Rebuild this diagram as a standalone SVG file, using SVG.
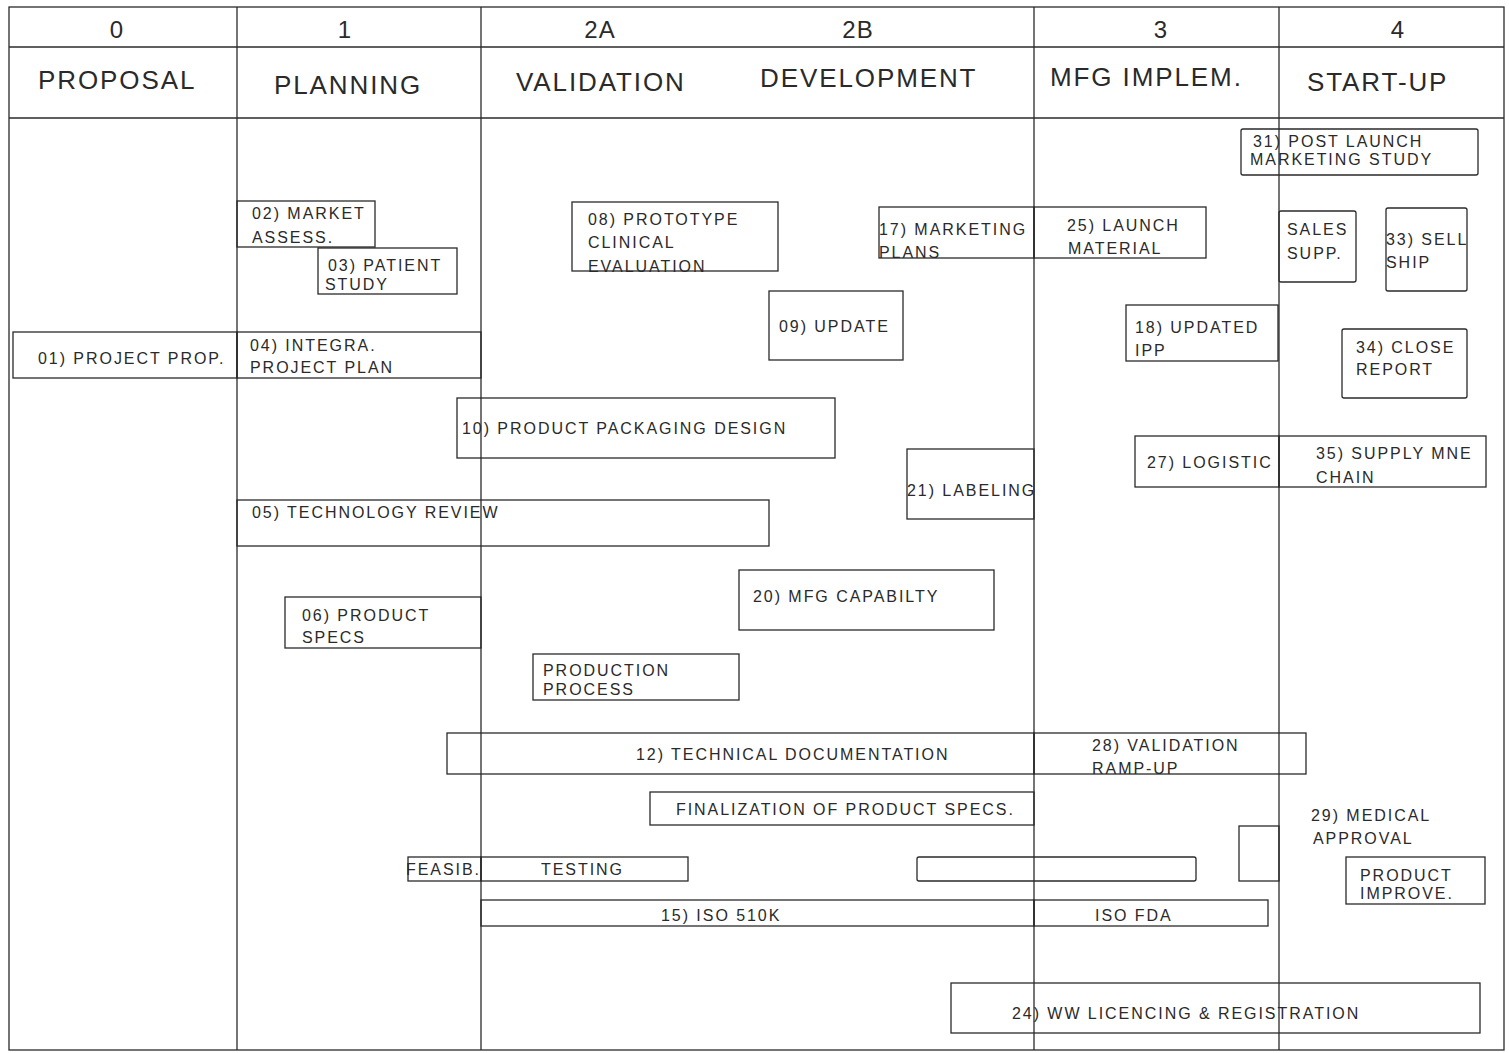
<svg xmlns="http://www.w3.org/2000/svg" width="1509" height="1053" viewBox="0 0 1509 1053">
<style>
.bx{fill:none;stroke:#2a2a2a;stroke-width:1.3}
.ln{stroke:#2a2a2a;stroke-width:1.3;fill:none}
.t{font-family:"Liberation Sans",Arial,sans-serif;font-size:16px;letter-spacing:1.95px;fill:#2a2a2a}
.h{font-family:"Liberation Sans",Arial,sans-serif;font-size:26px;letter-spacing:1.9px;fill:#2a2a2a}
.n{font-family:"Liberation Sans",Arial,sans-serif;font-size:24px;letter-spacing:1px;fill:#2a2a2a;text-anchor:middle}
</style>
<rect width="1509" height="1053" fill="#fff"/>
<g id="grid">
<rect class="bx" x="9" y="7" width="1495" height="1043"/>
<line class="ln" x1="9" y1="47" x2="1504" y2="47"/>
<line class="ln" x1="9" y1="118" x2="1504" y2="118"/>
<line class="ln" x1="237" y1="7" x2="237" y2="1050"/>
<line class="ln" x1="481" y1="7" x2="481" y2="1050"/>
<line class="ln" x1="1034" y1="7" x2="1034" y2="1050"/>
<line class="ln" x1="1279" y1="7" x2="1279" y2="1050"/>
</g>
<g id="headers">
<text class="n" x="117" y="38">0</text>
<text class="n" x="345" y="38">1</text>
<text class="n" x="600" y="38">2A</text>
<text class="n" x="858" y="38">2B</text>
<text class="n" x="1161" y="38">3</text>
<text class="n" x="1398" y="38">4</text>
<text class="h" x="38" y="89">PROPOSAL</text>
<text class="h" x="274" y="94">PLANNING</text>
<text class="h" x="516" y="91">VALIDATION</text>
<text class="h" x="760" y="87">DEVELOPMENT</text>
<text class="h" x="1050" y="86">MFG IMPLEM.</text>
<text class="h" x="1307" y="91">START-UP</text>
</g>
<g id="n01"><rect class="bx" x="13" y="332" width="224" height="46"/><text class="t" x="38" y="364">01) PROJECT PROP.</text></g>
<g id="n02"><rect class="bx" x="237" y="201" width="138" height="46"/><text class="t" x="252" y="219">02) MARKET</text><text class="t" x="252" y="243">ASSESS.</text></g>
<g id="n03"><rect class="bx" x="318" y="248" width="139" height="46"/><text class="t" x="328" y="271">03) PATIENT</text><text class="t" x="325" y="290">STUDY</text></g>
<g id="n04"><rect class="bx" x="237" y="332" width="244" height="46"/><text class="t" x="250" y="351">04) INTEGRA.</text><text class="t" x="250" y="373">PROJECT PLAN</text></g>
<g id="n08"><rect class="bx" x="572" y="202" width="206" height="69"/><text class="t" x="588" y="225">08) PROTOTYPE</text><text class="t" x="588" y="248">CLINICAL</text><text class="t" x="588" y="272">EVALUATION</text></g>
<g id="n09"><rect class="bx" x="769" y="291" width="134" height="69"/><text class="t" x="779" y="332">09) UPDATE</text></g>
<g id="n17"><rect class="bx" x="879" y="207" width="155" height="51"/><text class="t" x="879" y="235">17) MARKETING</text><text class="t" x="879" y="258">PLANS</text></g>
<g id="n25"><rect class="bx" x="1034" y="207" width="172" height="51"/><text class="t" x="1067" y="231">25) LAUNCH</text><text class="t" x="1068" y="254">MATERIAL</text></g>
<g id="n31"><rect class="bx" x="1241" y="129" width="237" height="46" rx="2"/><text class="t" x="1253" y="147">31) POST LAUNCH</text><text class="t" x="1250" y="165">MARKETING STUDY</text></g>
<g id="n32"><rect class="bx" x="1279" y="211" width="77" height="71" rx="2"/><text class="t" x="1287" y="235">SALES</text><text class="t" x="1287" y="259">SUPP.</text></g>
<g id="n33"><rect class="bx" x="1386" y="208" width="81" height="83" rx="2"/><text class="t" x="1386" y="245">33) SELL</text><text class="t" x="1386" y="268">SHIP</text></g>
<g id="n18"><rect class="bx" x="1126" y="305" width="152" height="56"/><text class="t" x="1135" y="333">18) UPDATED</text><text class="t" x="1135" y="356">IPP</text></g>
<g id="n34"><rect class="bx" x="1342" y="329" width="125" height="69" rx="2"/><text class="t" x="1356" y="353">34) CLOSE</text><text class="t" x="1356" y="375">REPORT</text></g>
<g id="n10"><rect class="bx" x="457" y="398" width="378" height="60"/><text class="t" x="462" y="434">10) PRODUCT PACKAGING DESIGN</text></g>
<g id="n21"><rect class="bx" x="907" y="449" width="127" height="70"/><text class="t" x="907" y="496">21) LABELING</text></g>
<g id="n27"><rect class="bx" x="1135" y="436" width="144" height="51"/><text class="t" x="1147" y="468">27) LOGISTIC</text></g>
<g id="n35"><rect class="bx" x="1279" y="436" width="207" height="51"/><text class="t" x="1316" y="459">35) SUPPLY MNE</text><text class="t" x="1316" y="483">CHAIN</text></g>
<g id="n05"><rect class="bx" x="237" y="500" width="532" height="46"/><text class="t" x="252" y="518">05) TECHNOLOGY REVIEW</text></g>
<g id="n20"><rect class="bx" x="739" y="570" width="255" height="60"/><text class="t" x="753" y="602">20) MFG CAPABILTY</text></g>
<g id="n06"><rect class="bx" x="285" y="597" width="196" height="51"/><text class="t" x="302" y="621">06) PRODUCT</text><text class="t" x="302" y="643">SPECS</text></g>
<g id="n07"><rect class="bx" x="533" y="654" width="206" height="46"/><text class="t" x="543" y="676">PRODUCTION</text><text class="t" x="543" y="695">PROCESS</text></g>
<g id="n12"><rect class="bx" x="447" y="733" width="587" height="41"/><text class="t" x="636" y="760">12) TECHNICAL DOCUMENTATION</text></g>
<g id="n28"><rect class="bx" x="1034" y="733" width="272" height="41"/><text class="t" x="1092" y="751">28) VALIDATION</text><text class="t" x="1092" y="774">RAMP-UP</text></g>
<g id="n13"><rect class="bx" x="650" y="792" width="384" height="33"/><text class="t" x="676" y="815">FINALIZATION OF PRODUCT SPECS.</text></g>
<g id="n29"><rect class="bx" x="1239" y="826" width="40" height="55"/><text class="t" x="1311" y="821">29) MEDICAL</text><text class="t" x="1313" y="844">APPROVAL</text></g>
<g id="n14a"><rect class="bx" x="408" y="857" width="73" height="24"/><text class="t" x="406" y="875">FEASIB.</text></g>
<g id="n14b"><rect class="bx" x="481" y="857" width="207" height="24"/><text class="t" x="541" y="875">TESTING</text></g>
<g id="n22"><rect class="bx" x="917" y="857" width="279" height="24" rx="2"/></g>
<g id="n30"><rect class="bx" x="1346" y="857" width="139" height="47"/><text class="t" x="1360" y="881">PRODUCT</text><text class="t" x="1360" y="899">IMPROVE.</text></g>
<g id="n15"><rect class="bx" x="481" y="900" width="553" height="26"/><text class="t" x="661" y="921">15) ISO 510K</text></g>
<g id="n16"><rect class="bx" x="1034" y="900" width="234" height="26"/><text class="t" x="1095" y="921">ISO FDA</text></g>
<g id="n24"><rect class="bx" x="951" y="983" width="529" height="50"/><text class="t" x="1012" y="1019">24) WW LICENCING &amp; REGISTRATION</text></g>
</svg>
